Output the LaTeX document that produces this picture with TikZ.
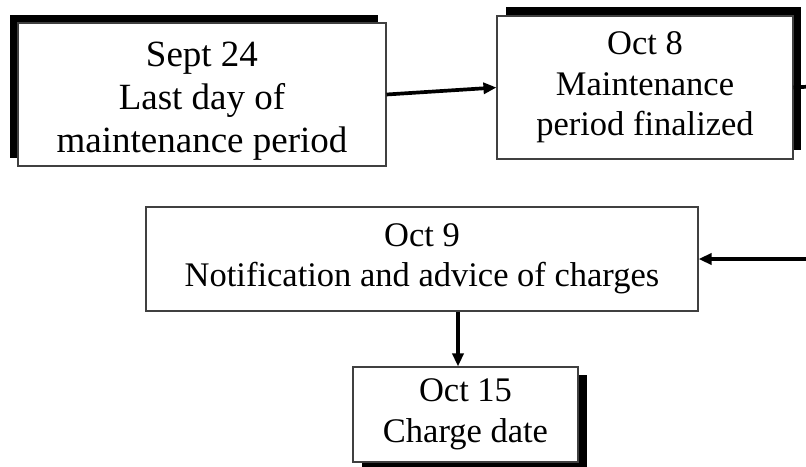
\documentclass[tikz,border=0pt]{standalone}
\usepackage{fontspec}
\setmainfont{Liberation Serif}
\usetikzlibrary{arrows.meta,calc}
\begin{document}
\begin{tikzpicture}[x=1pt,y=-1pt,
  box/.style={draw=black!75,line width=1.1pt,fill=white,inner sep=0pt,align=center,text=black},
  shadowbox/.style={fill=black,draw=none},
  bigtext/.style={font=\fontsize{37}{43}\selectfont},
  midtext/.style={font=\fontsize{34.5}{40.5}\selectfont},
  arr/.style={line width=3.7pt,-{Triangle[length=13pt,width=11pt]}},
  plain/.style={line width=3.7pt}]
\useasboundingbox (0,0) rectangle (806,466);
\clip (0,0) rectangle (806,466);
% shadows
\fill[shadowbox] (10,15) rectangle (378,158);
\fill[shadowbox] (506,7) rectangle (801,150);
\fill[shadowbox] (362,375) rectangle (587,471);
% boxes
\node[box,minimum width=368pt,minimum height=143pt] (b1) at (202,94.5) {};
\node[bigtext,align=center,inner sep=0pt] (t1) at (202,101)
  {Sept 24\\Last day of\\maintenance period};
\node[box,midtext,minimum width=296pt,minimum height=143pt] (b2) at (645,87.5)
  {Oct 8\\Maintenance\\period finalized};
\node[box,midtext,minimum width=552pt,minimum height=104pt] (b3) at (422,259)
  {Oct 9\\Notification and advice of charges};
\node[box,midtext,minimum width=225pt,minimum height=95pt] (b4) at (465.5,414.5)
  {Oct 15\\Charge date};
% connectors
\coordinate (r1) at (820,86);
\coordinate (r2) at (820,259);
\draw[arr] (b1.east) -- (b2.west);
\draw[plain] (b2.east) -- (r1);
\draw[arr] (r2) -- (b3.east);
\draw[arr] ([xshift=-7.5pt]b4.north |- b3.south) -- ([xshift=-7.5pt]b4.north);
\end{tikzpicture}
\end{document}
